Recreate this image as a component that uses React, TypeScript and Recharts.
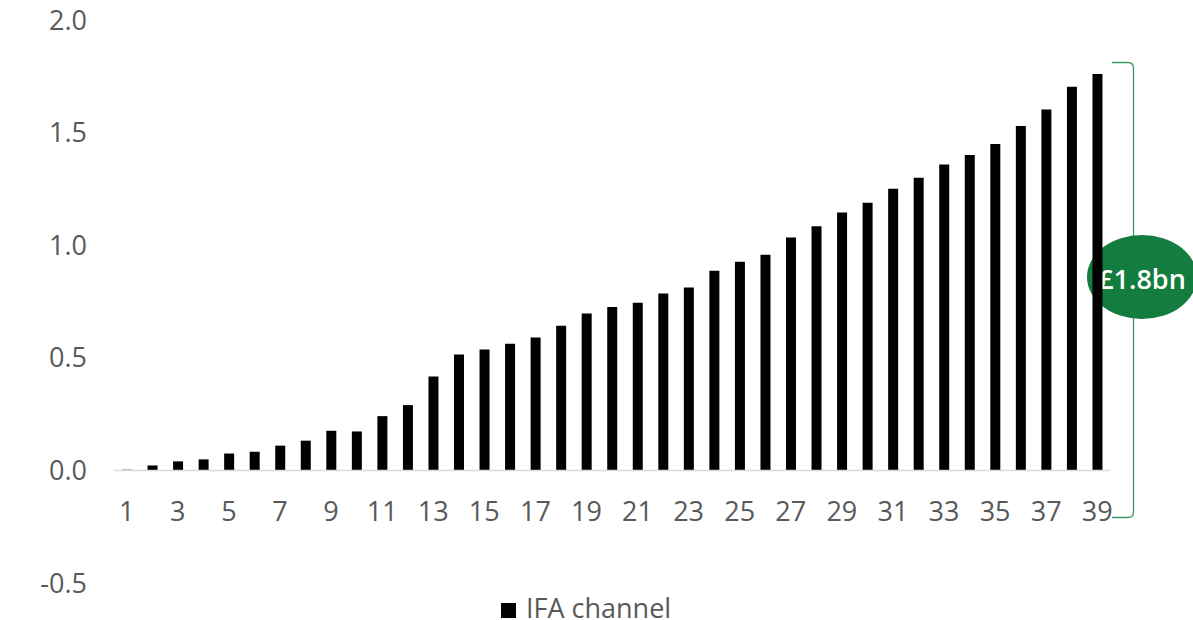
import { Bar, BarChart, Customized, Legend, ReferenceLine, XAxis, YAxis } from 'recharts';

const PERIODS = [
  '1', '2', '3', '4', '5', '6', '7', '8', '9', '10',
  '11', '12', '13', '14', '15', '16', '17', '18', '19', '20',
  '21', '22', '23', '24', '25', '26', '27', '28', '29', '30',
  '31', '32', '33', '34', '35', '36', '37', '38', '39',
];

const IFA_VALUES = [
  0.003, 0.022, 0.04, 0.049, 0.075, 0.083, 0.11, 0.132, 0.176, 0.173,
  0.241, 0.29, 0.417, 0.515, 0.537, 0.562, 0.59, 0.642, 0.697, 0.726,
  0.745, 0.785, 0.812, 0.886, 0.926, 0.958, 1.034, 1.084, 1.145, 1.188,
  1.251, 1.3, 1.358, 1.4, 1.449, 1.529, 1.603, 1.704, 1.76,
];

const Y_TICKS = [-0.5, 0, 0.5, 1.0, 1.5, 2.0];

const TOTAL_LABEL = '£1.8bn';

const rows = PERIODS.map((period, i) => ({ period, ifa: IFA_VALUES[i] }));

const GREY_TEXT = '#595959';
const GREEN = '#137c3f';
const FONT_SIZE = 27;

function XTick(props: any) {
  const { x, y, payload } = props;
  return (
    <text x={x} y={y - 81} textAnchor="middle" dominantBaseline="central" fill={GREY_TEXT} fontSize={FONT_SIZE}>
      {payload.value}
    </text>
  );
}

function TotalBracket() {
  return (
    <g>
      <path
        d="M1112 62.5 L1128 62.5 Q1133.5 62.5 1133.5 68 L1133.5 512 Q1133.5 517.5 1128 517.5 L1112 517.5"
        fill="none"
        stroke="#3c9a5f"
        strokeWidth={1.3}
      />
      <ellipse cx={1142} cy={277} rx={55} ry={42} fill={GREEN} />
      <text x={1142} y={278} textAnchor="middle" dominantBaseline="central" fill="#fff" fontSize={27} fontWeight={600}>
        {TOTAL_LABEL}
      </text>
    </g>
  );
}

export default function App() {
  return (
    <div style={{ position: 'absolute', left: 0, top: 0, fontFamily: '"Open Sans", sans-serif' }}>
      <BarChart width={1193} height={620} data={rows} margin={{ top: 20, right: 83, bottom: 36, left: 0 }}>
        <XAxis
          dataKey="period"
          interval={1}
          axisLine={false}
          tickLine={false}
          height={1}
          tick={<XTick />}
        />
        <YAxis
          width={114}
          domain={[-0.5, 2]}
          ticks={Y_TICKS}
          axisLine={false}
          tickLine={false}
          tickMargin={21}
          tickFormatter={(v: number) => v.toFixed(1)}
          tick={{ fill: GREY_TEXT, fontSize: FONT_SIZE }}
        />
        <ReferenceLine y={0} stroke="#d9d9d9" strokeWidth={1.5} />
        <Bar dataKey="ifa" name="IFA channel" fill="#000" barSize={10} isAnimationActive={false} />
        <Legend
          layout="horizontal"
          verticalAlign="middle"
          align="center"
          iconType="square"
          iconSize={15}
          wrapperStyle={{ top: 596, left: 501, width: 'auto', fontSize: FONT_SIZE, lineHeight: '24px' }}
          formatter={(value: string) => <span style={{ color: GREY_TEXT, marginLeft: 6 }}>{value}</span>}
        />
        <Customized component={<TotalBracket />} />
      </BarChart>
    </div>
  );
}
